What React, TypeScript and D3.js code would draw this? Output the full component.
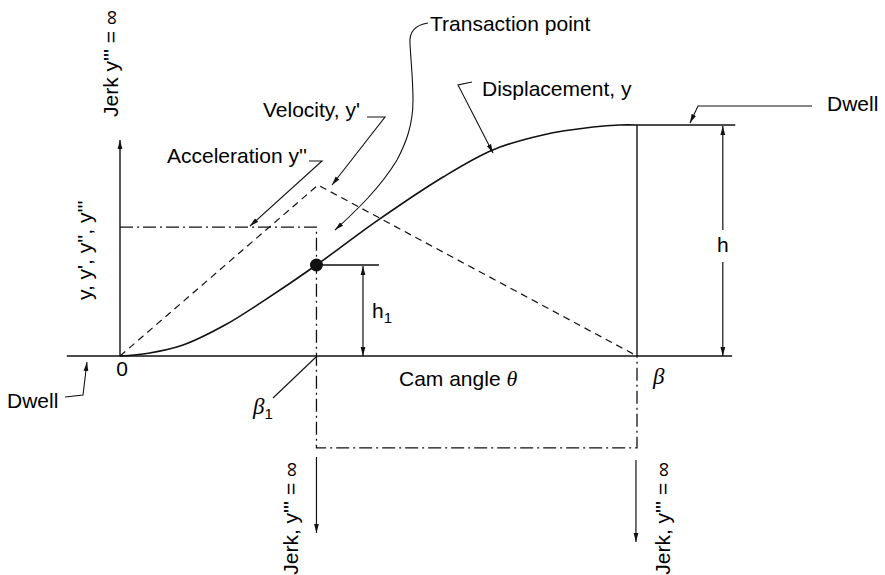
import React from "react";
import * as d3 from "d3";

// ---- data (θ in % of rise angle β, values as fraction of total rise h) ----
const displacementTheta = [0, 5.5, 11.9, 20.3, 28, 38, 49.7, 62.5, 72.1, 81.8, 91.5, 96.7, 100];
const displacementValue = [0, 0.012, 0.045, 0.134, 0.242, 0.394, 0.585, 0.775, 0.892, 0.957, 0.991, 1.0, 1.0];
const velocityTheta = [0, 38.3, 100];
const velocityValue = [0, 0.74, 0];
const accelerationTheta = [0, 38, 38, 100, 100];
const accelerationValue = [0.558, 0.558, -0.398, -0.398, 0];
const keyAngles = [0, 38, 100]; // 0, β1, β
const transitionValue = 0.394; // h1
const dwellEnd = 119;
const axisRange = [-10.3, 118.4];
const yAxisTop = 0.935;
const jerkArrows = [
  { theta: 38, from: -0.437, to: -0.766 },
  { theta: 99.8, from: -0.45, to: -0.805 },
];

const W = 885;
const H = 575;
const FONT = "'Liberation Sans', Arial, Helvetica, sans-serif";
const SERIF = "'Liberation Serif', 'Times New Roman', serif";
const FS = 21;

export default function App() {
  const x = d3.scaleLinear().domain([0, 100]).range([120, 637]);
  const y = d3.scaleLinear().domain([0, 1]).range([356, 125]);

  const disp = displacementTheta.map((t, i) => [t, displacementValue[i]] as [number, number]);
  const vel = velocityTheta.map((t, i) => [t, velocityValue[i]] as [number, number]);
  const acc = accelerationTheta.map((t, i) => [t, accelerationValue[i]] as [number, number]);

  const lineSmooth = d3
    .line<[number, number]>()
    .x((d) => x(d[0]))
    .y((d) => y(d[1]))
    .curve(d3.curveCatmullRom.alpha(0.5));
  const lineStraight = d3
    .line<[number, number]>()
    .x((d) => x(d[0]))
    .y((d) => y(d[1]));

  const [t0, tb1, tb] = keyAngles;
  const stroke = "#111";
  const sw = 1.4;

  const hX = x(116.6);
  const h1X = x(47);
  const h1End = x(50.1);

  return (
    <svg
      width={W}
      height={H}
      viewBox={`0 0 ${W} ${H}`}
      style={{ position: "absolute", left: 0, top: 0, background: "#fff" }}
      fontFamily={FONT}
      fontSize={FS}
    >
      <defs>
        <marker
          id="arr"
          markerUnits="userSpaceOnUse"
          markerWidth={10}
          markerHeight={6}
          refX={9}
          refY={3}
          orient="auto-start-reverse"
        >
          <path d="M0,0.6 L9,3 L0,5.4 Z" fill={stroke} />
        </marker>
      </defs>
      <rect x={0} y={0} width={W} height={H} fill="#fff" />

      {/* cam angle axis */}
      <line x1={x(axisRange[0])} x2={x(axisRange[1])} y1={y(0)} y2={y(0)} stroke={stroke} strokeWidth={1.6} />
      {/* y axis */}
      <line x1={x(t0)} x2={x(t0)} y1={y(0)} y2={y(yAxisTop)} stroke={stroke} strokeWidth={sw} markerEnd="url(#arr)" />

      {/* velocity (dashed) */}
      <path d={lineStraight(vel) || ""} fill="none" stroke={stroke} strokeWidth={1.2} strokeDasharray="7,5" />
      {/* acceleration (dash-dot) */}
      <path
        d={lineStraight(acc) || ""}
        fill="none"
        stroke={stroke}
        strokeWidth={1.3}
        strokeDasharray="13,4,2,4"
      />
      {/* displacement */}
      <path d={lineSmooth(disp) || ""} fill="none" stroke={stroke} strokeWidth={1.6} />
      {/* dwell */}
      <line x1={x(tb)} x2={x(dwellEnd)} y1={y(1)} y2={y(1)} stroke={stroke} strokeWidth={1.6} />
      {/* β vertical */}
      <line x1={x(tb)} x2={x(tb)} y1={y(1)} y2={y(0)} stroke={stroke} strokeWidth={sw} />

      {/* transition point */}
      <circle cx={x(tb1)} cy={y(transitionValue)} r={6.5} fill={stroke} />
      <line x1={x(tb1)} x2={h1End} y1={y(transitionValue)} y2={y(transitionValue)} stroke={stroke} strokeWidth={sw} />
      <line
        x1={h1X}
        x2={h1X}
        y1={y(transitionValue) + 1}
        y2={y(0)}
        stroke={stroke}
        strokeWidth={1.2}
        markerStart="url(#arr)"
        markerEnd="url(#arr)"
      />
      <text x={372} y={318}>
        h
        <tspan fontSize={15} dy={5}>1</tspan>
      </text>

      {/* h dimension */}
      <line x1={hX} x2={hX} y1={y(1) + 1} y2={230} stroke={stroke} strokeWidth={1.2} markerStart="url(#arr)" />
      <line x1={hX} x2={hX} y1={262} y2={y(0)} stroke={stroke} strokeWidth={1.2} markerEnd="url(#arr)" />
      <text x={hX} y={252} textAnchor="middle">h</text>

      {/* jerk arrows */}
      {jerkArrows.map((j, i) => (
        <line
          key={i}
          x1={x(j.theta)}
          x2={x(j.theta)}
          y1={y(j.from)}
          y2={y(j.to)}
          stroke={stroke}
          strokeWidth={1.2}
          markerEnd="url(#arr)"
        />
      ))}

      {/* rotated labels */}
      <text transform="translate(118,117) rotate(-90)">Jerk y''' = ∞</text>
      <text transform="translate(92,300) rotate(-90)">y, y', y'', y'''</text>
      <text transform="translate(298,462) rotate(-90)" textAnchor="end">Jerk, y''' = ∞</text>
      <text transform="translate(670,462) rotate(-90)" textAnchor="end">Jerk, y''' = ∞</text>

      {/* labels with leaders */}
      <text x={263} y={117}>Velocity, y'</text>
      <path d="M367,117 L385,117 L332,185" fill="none" stroke={stroke} strokeWidth={1.1} markerEnd="url(#arr)" />

      <text x={167} y={163}>Acceleration y''</text>
      <path d="M309,161 L322,161 L250,226" fill="none" stroke={stroke} strokeWidth={1.1} markerEnd="url(#arr)" />

      <text x={430} y={31}>Transaction point</text>
      <path
        d="M428,23 C414,25 409,32 410,44 C411,62 413,80 413,100 C413,125 406,143 397,160 C380,188 357,210 335,230"
        fill="none"
        stroke={stroke}
        strokeWidth={1.1}
        markerEnd="url(#arr)"
      />

      <text x={482} y={96}>Displacement, y</text>
      <path d="M472,82 L458,85 L493,153" fill="none" stroke={stroke} strokeWidth={1.1} markerEnd="url(#arr)" />

      <text x={827} y={111}>Dwell</text>
      <path d="M812,106 L698,106 L690,123" fill="none" stroke={stroke} strokeWidth={1.1} markerEnd="url(#arr)" />

      <text x={7} y={408}>Dwell</text>
      <path d="M65,397 L83,395 L87,362" fill="none" stroke={stroke} strokeWidth={1.1} markerEnd="url(#arr)" />

      <text x={122} y={376} textAnchor="middle">0</text>

      <text x={399} y={386}>
        Cam angle{" "}
        <tspan fontFamily={SERIF} fontStyle="italic" fontSize={22}>θ</tspan>
      </text>

      <text x={653} y={384} fontFamily={SERIF} fontStyle="italic" fontSize={23}>β</text>

      <text x={253} y={414}>
        <tspan fontFamily={SERIF} fontStyle="italic" fontSize={23}>β</tspan>
        <tspan fontSize={15} dy={5}>1</tspan>
      </text>
      <path d="M273,398 L316,357" fill="none" stroke={stroke} strokeWidth={1.1} />
    </svg>
  );
}
